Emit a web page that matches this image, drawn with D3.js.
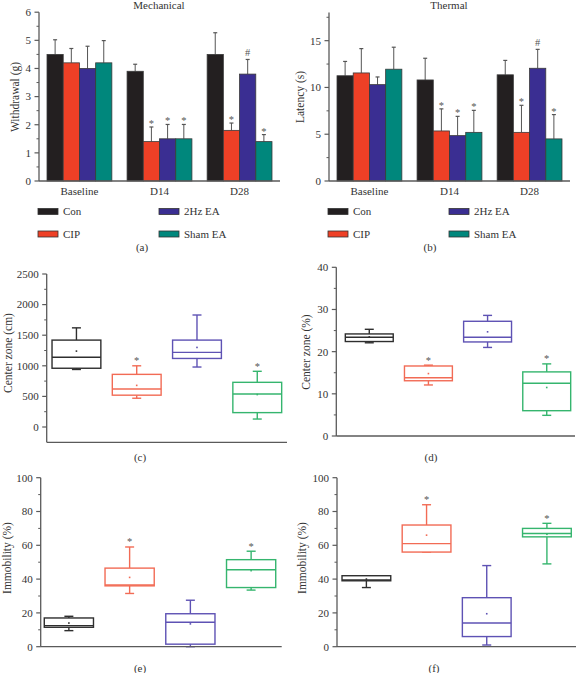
<!DOCTYPE html>
<html><head><meta charset="utf-8">
<script src="https://cdn.jsdelivr.net/npm/d3@7"></script>
<style>
body{margin:0;background:#fff;}
svg{display:block;font-family:"Liberation Serif","Times New Roman",serif;}
</style></head>
<body><svg id="c" width="578" height="673"></svg>
<script>
// ---------- DATA ----------
const groups = ["Baseline", "D14", "D28"];
const series = ["Con", "CIP", "2Hz EA", "Sham EA"];
const seriesColors = ["#231f20", "#ee4026", "#3a2e92", "#00877c"];

const mechMean = [[4.5, 4.2, 4.0, 4.2], [3.9, 1.4, 1.5, 1.5], [4.5, 1.8, 3.8, 1.4]];
const mechSD   = [[0.52, 0.51, 0.79, 0.79], [0.25, 0.52, 0.51, 0.51], [0.77, 0.26, 0.52, 0.25]];
const mechMark = [["", "", "", ""], ["", "*", "*", "*"], ["", "*", "#", "*"]];

const thermMean = [[11.25, 11.55, 10.3, 11.95], [10.8, 5.35, 4.85, 5.2], [11.35, 5.2, 12.05, 4.5]];
const thermSD   = [[1.53, 2.6, 0.82, 2.35], [2.32, 2.36, 2.06, 2.35], [1.54, 2.89, 2.02, 2.6]];
const thermMark = [["", "", "", ""], ["", "*", "*", "*"], ["", "*", "#", "*"]];

const boxColors = ["#2e2e2e", "#f26b55", "#5e52b4", "#35b56e"];
// [min, q1, median, q3, max, mean]
const centerDist = [[940, 960, 1140, 1420, 1620, 1240], [470, 520, 620, 860, 1000, 680], [980, 1120, 1220, 1420, 1830, 1300], [130, 235, 540, 730, 910, 530]];
const centerPct  = [[22.1, 22.4, 23.4, 24.2, 25.3, 23.5], [12.1, 13.1, 13.8, 16.6, 16.8, 14.8], [21.0, 22.3, 23.4, 27.2, 28.6, 24.7], [4.9, 6.0, 12.5, 15.2, 17.1, 11.5]];
const immobE     = [[9.5, 11.5, 12.5, 17, 18, 14], [31.5, 36, 36.5, 46.5, 59, 41], [0, 1.5, 14.5, 19.5, 27.5, 13.5], [33.5, 35, 45.5, 51.5, 56.5, 45]];
const immobF     = [[35, 39, 39.5, 42, 42, 40], [56, 56, 61, 72, 84, 66], [1, 6, 14, 29, 48, 19.5], [49, 65, 67, 70, 73, 66.5]];
const boxMark    = ["", "*", "", "*"];

// ---------- DRAW ----------
const svg = d3.select("#c");
const txt = "#333";
const axc = "#5a5a5a";

function yAxis(g, y, x0, majors, minors, fmt) {
  const ax = g.append("g").attr("transform", `translate(${x0},0)`);
  const r = y.range();
  ax.append("line").attr("x1", 0).attr("x2", 0).attr("y1", r[0]).attr("y2", r[1])
    .attr("stroke", axc).attr("stroke-width", 1.3);
  minors.forEach(v => ax.append("line").attr("x1", -2.5).attr("x2", 0).attr("y1", y(v)).attr("y2", y(v)).attr("stroke", axc).attr("stroke-width", 1));
  majors.forEach(v => {
    ax.append("line").attr("x1", -4.5).attr("x2", 0).attr("y1", y(v)).attr("y2", y(v)).attr("stroke", axc).attr("stroke-width", 1.2);
    ax.append("text").attr("x", -8).attr("y", y(v)).attr("dy", "0.35em").attr("text-anchor", "end")
      .attr("font-size", 11).attr("fill", txt).text(fmt ? fmt(v) : v);
  });
}
function xLine(g, x1, x2, yv) {
  g.append("line").attr("x1", x1).attr("x2", x2).attr("y1", yv).attr("y2", yv).attr("stroke", axc).attr("stroke-width", 1.3);
}
function yTitle(g, x, y, t) {
  g.append("text").attr("transform", `translate(${x},${y}) rotate(-90)`).attr("text-anchor", "middle")
    .attr("dy", "0.35em").attr("font-size", 11.5).attr("fill", txt).text(t);
}
function caption(g, x, y, t) {
  g.append("text").attr("x", x).attr("y", y).attr("dy", "0.35em").attr("text-anchor", "middle")
    .attr("font-size", 11).attr("fill", txt).text(t);
}

function barPanel(opt) {
  const g = svg.append("g");
  const y = d3.scaleLinear().domain(opt.ydom).range([181, opt.ytop]);
  const x0 = d3.scaleBand().domain(groups).range([opt.ax, opt.axEnd]).paddingInner(0.19).paddingOuter(0.1);
  const x1 = d3.scaleBand().domain(series).range([0, x0.bandwidth()]);
  groups.forEach((gr, gi) => {
    series.forEach((s, si) => {
      const m = opt.mean[gi][si], e = m + opt.sd[gi][si];
      const bx = x0(gr) + x1(s), bw = x1.bandwidth();
      const cx = bx + bw / 2;
      g.append("line").attr("x1", cx).attr("x2", cx).attr("y1", y(m)).attr("y2", y(e)).attr("stroke", "#555").attr("stroke-width", 1);
      g.append("line").attr("x1", cx - 2).attr("x2", cx + 2).attr("y1", y(e)).attr("y2", y(e)).attr("stroke", "#555").attr("stroke-width", 1.2);
      g.append("rect").attr("x", bx).attr("y", y(m)).attr("width", bw).attr("height", y(0) - y(m))
        .attr("fill", seriesColors[si]).attr("stroke", "#3a3a3a").attr("stroke-width", 0.8);
      const mk = opt.mark[gi][si];
      if (mk) g.append("text").attr("x", cx).attr("y", y(e) - (mk === "#" ? 3.5 : 0)).attr("text-anchor", "middle")
        .attr("font-size", 10.5).attr("fill", "#555").text(mk);
    });
    g.append("text").attr("x", x0(gr) + x0.bandwidth() / 2).attr("y", 191).attr("dy", "0.35em")
      .attr("text-anchor", "middle").attr("font-size", 11).attr("fill", txt).text(gr);
  });
  yAxis(g, y, opt.ax, opt.majors, opt.minors);
  xLine(g, opt.ax, opt.axEnd, y(0));
  yTitle(g, opt.titleX, 97, opt.ytitle);
  g.append("text").attr("x", opt.titleCx).attr("y", 8.5).attr("text-anchor", "middle").attr("font-size", 11).attr("fill", txt).text(opt.title);
  // legend
  series.forEach((s, si) => {
    const col = si < 2 ? 0 : 1, row = si % 2;
    const lx = opt.legX[col], ly = [211.5, 234][row];
    g.append("rect").attr("x", lx).attr("y", ly - 3).attr("width", 20).attr("height", 6)
      .attr("fill", seriesColors[si]).attr("stroke", "#333").attr("stroke-width", 0.8);
    g.append("text").attr("x", lx + 25).attr("y", ly).attr("dy", "0.35em").attr("font-size", 11).attr("fill", txt).text(s);
  });
}

barPanel({ydom: [0, 6], ytop: 12.2, ax: 39, axEnd: 280, mean: mechMean, sd: mechSD, mark: mechMark,
  majors: d3.range(0, 7, 1), minors: d3.range(0.5, 6, 1), titleX: 15, ytitle: "Withdrawal (g)",
  title: "Mechanical", titleCx: 159, legX: [38, 159]});
barPanel({ydom: [0, 18], ytop: 12.6, ax: 329, axEnd: 570, mean: thermMean, sd: thermSD, mark: thermMark,
  majors: [0, 5, 10, 15], minors: [2.5, 7.5, 12.5, 17.5], titleX: 300, ytitle: "Latency (s)",
  title: "Thermal", titleCx: 449, legX: [328, 449]});
caption(svg, 142, 247, "(a)");
caption(svg, 430, 247, "(b)");

function boxPanel(opt) {
  const g = svg.append("g");
  const y = d3.scaleLinear().domain(opt.ydom).range(opt.yr);
  const x = d3.scaleBand().domain(series).range(opt.xr).paddingInner(0.19).paddingOuter(0.1);
  opt.data.forEach((d, i) => {
    const [mn, q1, md, q3, mx, mean] = d;
    const bx = x(series[i]), bw = x.bandwidth(), cx = bx + bw / 2;
    const c = boxColors[i];
    const lw = 1.4;
    g.append("line").attr("x1", cx).attr("x2", cx).attr("y1", y(q3)).attr("y2", y(mx)).attr("stroke", c).attr("stroke-width", lw);
    g.append("line").attr("x1", cx).attr("x2", cx).attr("y1", y(q1)).attr("y2", y(mn)).attr("stroke", c).attr("stroke-width", lw);
    g.append("line").attr("x1", cx - 4.5).attr("x2", cx + 4.5).attr("y1", y(mx)).attr("y2", y(mx)).attr("stroke", c).attr("stroke-width", lw);
    g.append("line").attr("x1", cx - 4.5).attr("x2", cx + 4.5).attr("y1", y(mn)).attr("y2", y(mn)).attr("stroke", c).attr("stroke-width", lw);
    g.append("rect").attr("x", bx).attr("y", y(q3)).attr("width", bw).attr("height", y(q1) - y(q3))
      .attr("fill", "#fff").attr("stroke", c).attr("stroke-width", lw);
    g.append("line").attr("x1", bx).attr("x2", bx + bw).attr("y1", y(md)).attr("y2", y(md)).attr("stroke", c).attr("stroke-width", lw);
    g.append("rect").attr("x", cx - 0.8).attr("y", y(mean) - 0.8).attr("width", 1.6).attr("height", 1.6).attr("fill", c);
    if (boxMark[i]) g.append("text").attr("x", cx).attr("y", y(mx) - 1.5).attr("text-anchor", "middle")
      .attr("font-size", 10.5).attr("fill", "#555").text(boxMark[i]);
  });
  yAxis(g, y, opt.ax, opt.majors, opt.minors);
  xLine(g, opt.ax, opt.axEnd, opt.yr[0]);
  yTitle(g, opt.titleX, opt.titleY, opt.ytitle);
}

boxPanel({data: centerDist, ydom: [-250, 2500], yr: [442.3, 274], xr: [46, 287.7], ax: 46.7, axEnd: 287,
  majors: d3.range(0, 2501, 500), minors: d3.range(250, 2500, 500), titleX: 8, titleY: 353, ytitle: "Center zone (cm)"});
boxPanel({data: centerPct, ydom: [0, 40], yr: [436, 267.3], xr: [339.4, 576.6], ax: 336.3, axEnd: 575,
  majors: [0, 10, 20, 30, 40], minors: [5, 15, 25, 35], titleX: 305.5, titleY: 352, ytitle: "Center zone (%)"});
boxPanel({data: immobE, ydom: [0, 100], yr: [646.7, 477.7], xr: [38.2, 281.8], ax: 40.7, axEnd: 281.7,
  majors: [0, 20, 40, 60, 80, 100], minors: [10, 30, 50, 70, 90], titleX: 6.5, titleY: 558, ytitle: "Immobility (%)"});
boxPanel({data: immobF, ydom: [0, 100], yr: [646.7, 477.7], xr: [336, 577.3], ax: 337, axEnd: 576,
  majors: [0, 20, 40, 60, 80, 100], minors: [10, 30, 50, 70, 90], titleX: 301.5, titleY: 558, ytitle: "Immobility (%)"});
caption(svg, 140, 457, "(c)");
caption(svg, 431, 457, "(d)");
caption(svg, 140, 668, "(e)");
caption(svg, 434, 668, "(f)");
</script></body></html>
